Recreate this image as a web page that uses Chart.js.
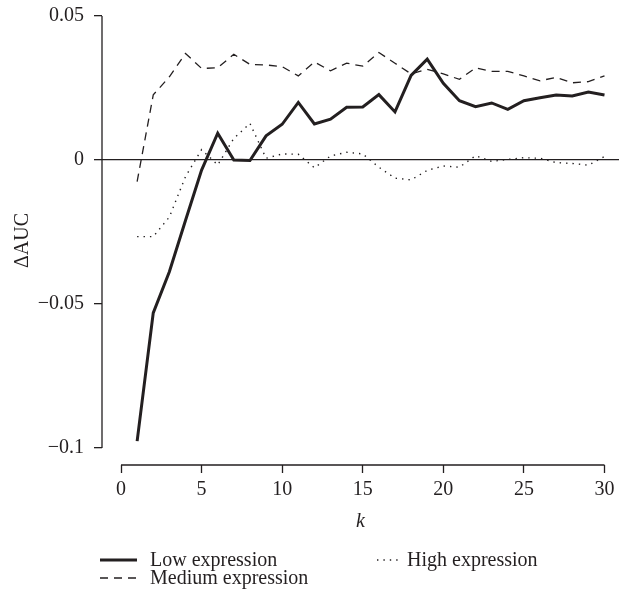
<!DOCTYPE html>
<html>
<head>
<meta charset="utf-8">
<script src="https://cdn.jsdelivr.net/npm/chart.js@4.4.1/dist/chart.umd.min.js"></script>
<style>
  body { margin: 0; background: #fff; }
  #wrap { position: relative; width: 619px; height: 600px; font-family: 'Liberation Serif', serif; color: #231f20; }
  .lg-text { position: absolute; font-size: 20px; line-height: 20px; white-space: nowrap; }
  .lg-line { position: absolute; }
</style>
</head>
<body>
<div id="wrap">
  <canvas id="chart" width="619" height="600"></canvas>
  <div id="legend"></div>
</div>
<script>
// k values (x axis)
var ks = [1, 2, 3, 4, 5, 6, 7, 8, 9, 10, 11, 12, 13, 14, 15, 16, 17, 18, 19, 20, 21, 22, 23, 24, 25, 26, 27, 28, 29, 30];

// delta AUC per series
var lowExpr = [-0.0976, -0.0531, -0.0388, -0.021, -0.0035, 0.0093, 0.0, -0.0002, 0.0084, 0.0124,
               0.020, 0.0125, 0.0142, 0.0183, 0.0184, 0.0227, 0.0167, 0.0294, 0.035, 0.0266,
               0.0206, 0.0185, 0.0198, 0.0176, 0.0206, 0.0216, 0.0226, 0.0222, 0.0236, 0.0226];
var mediumExpr = [-0.0075, 0.0226, 0.0289, 0.037, 0.0318, 0.032, 0.0367, 0.0332, 0.033, 0.0324,
                  0.0292, 0.034, 0.031, 0.0336, 0.0326, 0.0373, 0.0336, 0.0299, 0.0315, 0.0299,
                  0.028, 0.032, 0.0308, 0.0308, 0.0292, 0.0275, 0.0287, 0.0268, 0.0272, 0.0292];
var highExpr = [-0.0266, -0.0266, -0.0198, -0.0058, 0.0036, -0.0017, 0.0075, 0.0127, 0.0006, 0.0021,
                0.002, -0.0027, 0.0014, 0.0027, 0.0021, -0.0025, -0.0063, -0.0069, -0.0036, -0.0021,
                -0.0025, 0.0015, -0.0005, 0.0002, 0.0008, 0.0006, -0.0009, -0.0012, -0.0018, 0.0012];

// tick labels
var xTicks = [0, 5, 10, 15, 20, 25, 30];
var yTicks = [-0.1, -0.05, 0, 0.05];

var ink = '#231f20';
var serif = "'Liberation Serif', serif";

function pts(vals) {
    return ks.map(function (k, i) { return { x: k, y: vals[i] }; });
}

// axis lines only span the first..last tick (bracket style)
var axisLines = {
    id: 'axisLines',
    afterDraw: function (chart) {
        var c = chart.ctx, area = chart.chartArea, x = chart.scales.x, y = chart.scales.y;
        c.save();
        c.strokeStyle = ink;
        c.lineWidth = 1.3;
        c.beginPath();
        c.moveTo(area.left, y.getPixelForValue(yTicks[yTicks.length - 1]));
        c.lineTo(area.left, y.getPixelForValue(yTicks[0]));
        c.moveTo(x.getPixelForValue(xTicks[0]), area.bottom);
        c.lineTo(x.getPixelForValue(xTicks[xTicks.length - 1]), area.bottom);
        c.stroke();
        c.restore();
    }
};

var ctx = document.getElementById('chart').getContext('2d');
new Chart(ctx, {
    type: 'line',
    data: {
        datasets: [
            { label: 'Low expression', data: pts(lowExpr), borderColor: ink, borderWidth: 3, pointRadius: 0, tension: 0 },
            { label: 'Medium expression', data: pts(mediumExpr), borderColor: ink, borderWidth: 1.3, borderDash: [8, 6], pointRadius: 0, tension: 0 },
            { label: 'High expression', data: pts(highExpr), borderColor: ink, borderWidth: 1.4, borderDash: [1.4, 5], pointRadius: 0, tension: 0 }
        ]
    },
    options: {
        responsive: false,
        animation: false,
        layout: { padding: { top: 16, left: 0, right: 0, bottom: 0 } },
        plugins: { legend: { display: false }, tooltip: { enabled: false } },
        scales: {
            x: {
                type: 'linear',
                min: -1.18,
                max: 30.9,
                afterBuildTicks: function (s) { s.ticks = xTicks.map(function (v) { return { value: v }; }); },
                afterFit: function (s) { s.height = 135; s.paddingLeft = 0; s.paddingRight = 0; },
                grid: { drawOnChartArea: false, tickLength: 8, tickColor: ink, tickWidth: 1.3 },
                border: { display: false },
                ticks: { padding: 5, color: ink, font: { family: serif, size: 20 } },
                title: { display: true, text: 'k', color: ink, font: { family: serif, size: 20, style: 'italic' }, padding: { top: 0, bottom: 66 } }
            },
            y: {
                type: 'linear',
                min: -0.1059,
                max: 0.05,
                afterBuildTicks: function (s) { s.ticks = yTicks.map(function (v) { return { value: v }; }); },
                afterFit: function (s) { s.width = 102; s.paddingTop = 0; s.paddingBottom = 0; },
                grid: {
                    color: function (c) { return c.tick && c.tick.value === 0 ? ink : 'rgba(0,0,0,0)'; },
                    lineWidth: 1.3, tickLength: 8, tickColor: ink, tickWidth: 1.3
                },
                border: { display: false },
                ticks: {
                    padding: 10, color: ink, font: { family: serif, size: 20 },
                    callback: function (v) { return v === 0 ? '0' : (v < 0 ? '\u2212' : '') + Math.abs(v); }
                },
                title: { display: true, text: '\u0394AUC', color: ink, font: { family: serif, size: 20 }, padding: { top: 11, bottom: 0 } }
            }
        }
    },
    plugins: [axisLines]
});

// legend below the plot, two columns like the original
var legendItems = [
    { text: 'Low expression', x: 100, y: 560, w: 37, dash: '', lw: 3 },
    { text: 'High expression', x: 377, y: 560, w: 25, dash: '1.4 5', lw: 1.4 },
    { text: 'Medium expression', x: 100, y: 578, w: 37, dash: '8 6', lw: 1.3 }
];
var legend = document.getElementById('legend');
legendItems.forEach(function (it) {
    var svg = '<svg class="lg-line" style="left:' + it.x + 'px;top:' + (it.y - 5) + 'px" width="' + it.w + '" height="10">' +
        '<line x1="0" y1="5" x2="' + it.w + '" y2="5" stroke="' + ink + '" stroke-width="' + it.lw + '"' +
        (it.dash ? ' stroke-dasharray="' + it.dash + '"' : '') + '/></svg>';
    legend.insertAdjacentHTML('beforeend', svg);
    var t = document.createElement('div');
    t.className = 'lg-text';
    t.style.left = (it.x + it.w + (it.w < 30 ? 5 : 13)) + 'px';
    t.style.top = (it.y - 11) + 'px';
    t.textContent = it.text;
    legend.appendChild(t);
});
</script>
</body>
</html>
